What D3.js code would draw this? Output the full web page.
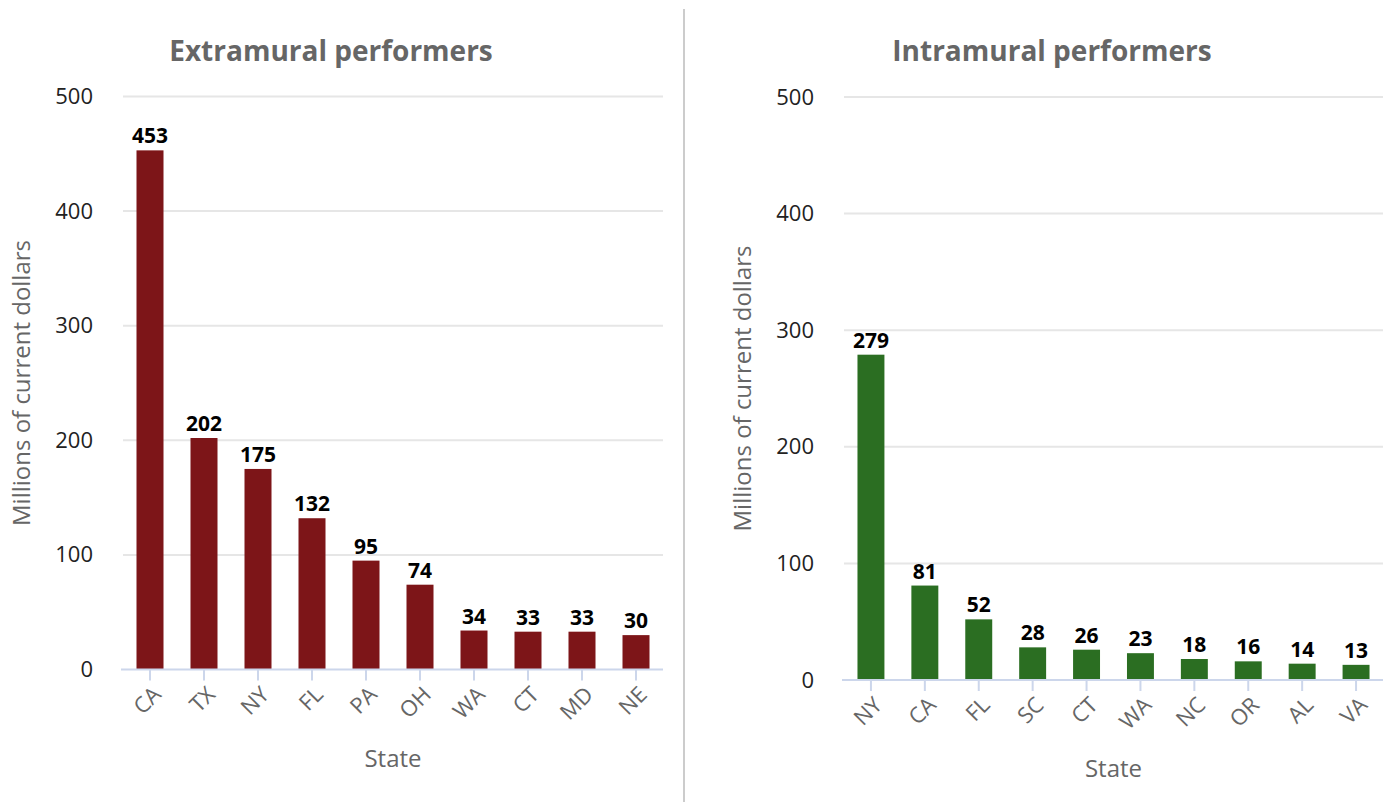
<!DOCTYPE html>
<html>
<head>
<meta charset="utf-8">
<script src="https://cdn.jsdelivr.net/npm/d3@7"></script>
<style>
  body { margin: 0; background: #fff; }
  svg { font-family: "Open Sans", sans-serif; display: block; }
</style>
</head>
<body>
<svg class="chart" width="1391" height="802"></svg>
<script>
// Data
let extraStates = ["CA", "TX", "NY", "FL", "PA", "OH", "WA", "CT", "MD", "NE"]
let extraValues = [453, 202, 175, 132, 95, 74, 34, 33, 33, 30]

let intraStates = ["NY", "CA", "FL", "SC", "CT", "WA", "NC", "OR", "AL", "VA"]
let intraValues = [279, 81, 52, 28, 26, 23, 18, 16, 14, 13]

let yTicks = [0, 100, 200, 300, 400, 500]

let svg = d3.select(".chart")

// divider between the two panels
svg.append("line")
    .attr("x1", 684).attr("x2", 684)
    .attr("y1", 9).attr("y2", 802)
    .attr("stroke", "#cccccc")
    .attr("stroke-width", 2)

function drawPanel(opts) {
    let data = opts.states.map((s, i) => ({state: s, value: opts.values[i]}))

    let xScale = d3.scaleBand()
        .domain(opts.states)
        .range([opts.left, opts.right])
        .paddingInner(0.5)
        .paddingOuter(0.25)

    let yScale = d3.scaleLinear()
        .domain([0, 500])
        .range([opts.bottom, opts.top])

    let g = svg.append("g")

    // Title
    g.append("text")
        .attr("x", opts.titleX)
        .attr("y", 61)
        .attr("text-anchor", "middle")
        .attr("font-size", 28)
        .attr("font-weight", "bold")
        .attr("fill", "#666666")
        .text(opts.title)

    // Gridlines
    g.append("g")
        .selectAll("line")
        .data(yTicks.filter(d => d > 0))
        .enter()
        .append("line")
        .attr("x1", opts.left)
        .attr("x2", opts.right)
        .attr("y1", d => yScale(d))
        .attr("y2", d => yScale(d))
        .attr("stroke", "#e6e6e6")
        .attr("stroke-width", 2)

    // Y axis
    let yAxis = d3.axisLeft(yScale)
        .tickValues(yTicks)
        .tickSize(0)
        .tickPadding(0)

    let yg = g.append("g")
        .attr("transform", `translate(${opts.left - 30}, 0)`)
        .call(yAxis)
    yg.select(".domain").remove()
    yg.selectAll("text")
        .attr("font-size", 22)
        .attr("font-family", "Open Sans")
        .attr("fill", "#222")
        .attr("dy", "0.32em")

    // Y axis title
    g.append("text")
        .attr("transform", `translate(${opts.yTitleX}, ${(opts.top + opts.bottom) / 2}) rotate(-90)`)
        .attr("text-anchor", "middle")
        .attr("font-size", 24)
        .attr("fill", "#666666")
        .text("Millions of current dollars")

    // Bars
    g.append("g")
        .selectAll("rect")
        .data(data)
        .enter()
        .append("rect")
        .attr("x", d => xScale(d.state))
        .attr("y", d => yScale(d.value))
        .attr("width", xScale.bandwidth())
        .attr("height", d => yScale(0) - yScale(d.value))
        .attr("fill", opts.color)

    // Data labels
    g.append("g")
        .selectAll("text")
        .data(data)
        .enter()
        .append("text")
        .attr("x", d => xScale(d.state) + xScale.bandwidth() / 2)
        .attr("y", d => yScale(d.value) - 7)
        .attr("text-anchor", "middle")
        .attr("font-size", 21)
        .attr("font-weight", "bold")
        .attr("fill", "#000")
        .text(d => d.value)

    // X axis
    let xAxis = d3.axisBottom(xScale)
        .tickSize(11)
        .tickSizeOuter(0)

    let xg = g.append("g")
        .attr("transform", `translate(0, ${opts.bottom})`)
        .call(xAxis)
    xg.select(".domain")
        .attr("stroke", "#ccd6eb")
        .attr("stroke-width", 2)
        .attr("d", `M${opts.left - 2},0H${opts.right}`)
    xg.selectAll(".tick line")
        .attr("stroke", "#ccd6eb")
        .attr("stroke-width", 2)
    xg.selectAll(".tick text")
        .attr("x", 0)
        .attr("y", 0)
        .attr("dy", "0.35em")
        .attr("font-size", 22)
        .attr("font-family", "Open Sans")
        .attr("fill", "#666666")
        .attr("text-anchor", "end")
        .attr("transform", "translate(7, 21) rotate(-45)")

    // X axis title
    g.append("text")
        .attr("x", (opts.left + opts.right) / 2)
        .attr("y", opts.bottom + 97)
        .attr("text-anchor", "middle")
        .attr("font-size", 24)
        .attr("fill", "#666666")
        .text("State")
}

drawPanel({
    title: "Extramural performers",
    titleX: 331,
    states: extraStates,
    values: extraValues,
    color: "#7d1518",
    left: 123, right: 663,
    top: 96.5, bottom: 669.5,
    yTitleX: 30
})

drawPanel({
    title: "Intramural performers",
    titleX: 1052,
    states: intraStates,
    values: intraValues,
    color: "#2b6e22",
    left: 844, right: 1383,
    top: 97, bottom: 680,
    yTitleX: 751
})
</script>
</body>
</html>
